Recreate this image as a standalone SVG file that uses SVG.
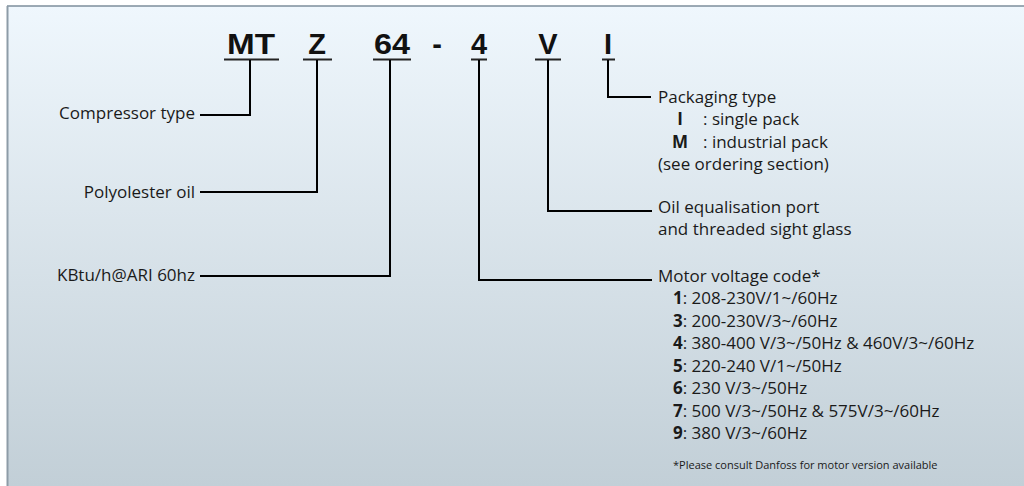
<svg xmlns="http://www.w3.org/2000/svg" width="1024" height="486" viewBox="0 0 1024 486">
<defs>
<linearGradient id="bg" x1="0" y1="0" x2="0" y2="1">
<stop offset="0" stop-color="#eff7fd"/>
<stop offset="1" stop-color="#c2cfd7"/>
</linearGradient>
</defs>
<style>
.code{font-family:"Liberation Sans",Arial,sans-serif;font-weight:bold;font-size:29px;fill:#111;text-anchor:middle}
.t{font-family:"Open Sans","Liberation Sans",sans-serif;font-size:17px;fill:#1a1a1a}
.r{text-anchor:end}
.b{font-weight:bold}
.m{text-anchor:middle}
.fn{font-family:"Open Sans","Liberation Sans",sans-serif;font-size:11px;fill:#1a1a1a}
.ul{stroke:#222;stroke-width:2;fill:none}
.ln{stroke:#000;stroke-width:2;fill:none}
</style>
<rect x="0" y="0" width="1024" height="486" fill="#ffffff"/>
<rect x="7" y="6" width="1017" height="480" fill="url(#bg)"/>
<line x1="7" y1="6" x2="1024" y2="6" stroke="#7d8e9b" stroke-width="1.5"/>
<line x1="7.5" y1="6" x2="7.5" y2="486" stroke="#8d9ca7" stroke-width="2"/>

<g id="code">
<text class="code" x="251" y="54" textLength="48" lengthAdjust="spacingAndGlyphs">MT</text>
<text class="code" x="317" y="54">Z</text>
<text class="code" x="392" y="54" textLength="36" lengthAdjust="spacingAndGlyphs">64</text>
<text class="code" x="437" y="54">-</text>
<text class="code" x="479" y="54">4</text>
<text class="code" x="548" y="54">V</text>
<text class="code" x="608" y="54">I</text>
</g>

<g id="connectors">
<line class="ul" x1="224" y1="59.5" x2="279" y2="59.5"/>
<line class="ul" x1="303" y1="59.5" x2="332" y2="59.5"/>
<line class="ul" x1="373" y1="59.5" x2="411" y2="59.5"/>
<line class="ul" x1="471" y1="59.5" x2="487" y2="59.5"/>
<line class="ul" x1="535" y1="59.5" x2="561" y2="59.5"/>
<line class="ul" x1="602" y1="59.5" x2="615" y2="59.5"/>
<polyline class="ln" points="250,60 250,115 200,115"/>
<polyline class="ln" points="317,60 317,192 200,192"/>
<polyline class="ln" points="390,60 390,276 200,276"/>
<polyline class="ln" points="479,60 479,280 652,280"/>
<polyline class="ln" points="548,60 548,211 652,211"/>
<polyline class="ln" points="608,60 608,97 651,97"/>
</g>

<g id="compressor-type">
<text class="t r" x="195" y="119">Compressor type</text>
</g>
<g id="polyolester-oil">
<text class="t r" x="195" y="198">Polyolester oil</text>
</g>
<g id="kbtu">
<text class="t r" x="195" y="281">KBtu/h@ARI 60hz</text>
</g>

<g id="packaging-type">
<text class="t" x="658" y="103">Packaging type</text>
<text class="t b m" x="680" y="125">I</text>
<text class="t" x="703" y="125">: single pack</text>
<text class="t b m" x="680" y="148">M</text>
<text class="t" x="703" y="148">: industrial pack</text>
<text class="t" x="658" y="170">(see ordering section)</text>
</g>

<g id="oil-equalisation">
<text class="t" x="658" y="213">Oil equalisation port</text>
<text class="t" x="658" y="235">and threaded sight glass</text>
</g>

<g id="motor-voltage">
<text class="t" x="658" y="282">Motor voltage code*</text>
<text class="t" x="673" y="304"><tspan class="b">1</tspan>: 208-230V/1~/60Hz</text>
<text class="t" x="673" y="327"><tspan class="b">3</tspan>: 200-230V/3~/60Hz</text>
<text class="t" x="673" y="349"><tspan class="b">4</tspan>: 380-400 V/3~/50Hz &amp; 460V/3~/60Hz</text>
<text class="t" x="673" y="372"><tspan class="b">5</tspan>: 220-240 V/1~/50Hz</text>
<text class="t" x="673" y="394"><tspan class="b">6</tspan>: 230 V/3~/50Hz</text>
<text class="t" x="673" y="417"><tspan class="b">7</tspan>: 500 V/3~/50Hz &amp; 575V/3~/60Hz</text>
<text class="t" x="673" y="439"><tspan class="b">9</tspan>: 380 V/3~/60Hz</text>
<text class="fn" x="673" y="469">*Please consult Danfoss for motor version available</text>
</g>
</svg>
